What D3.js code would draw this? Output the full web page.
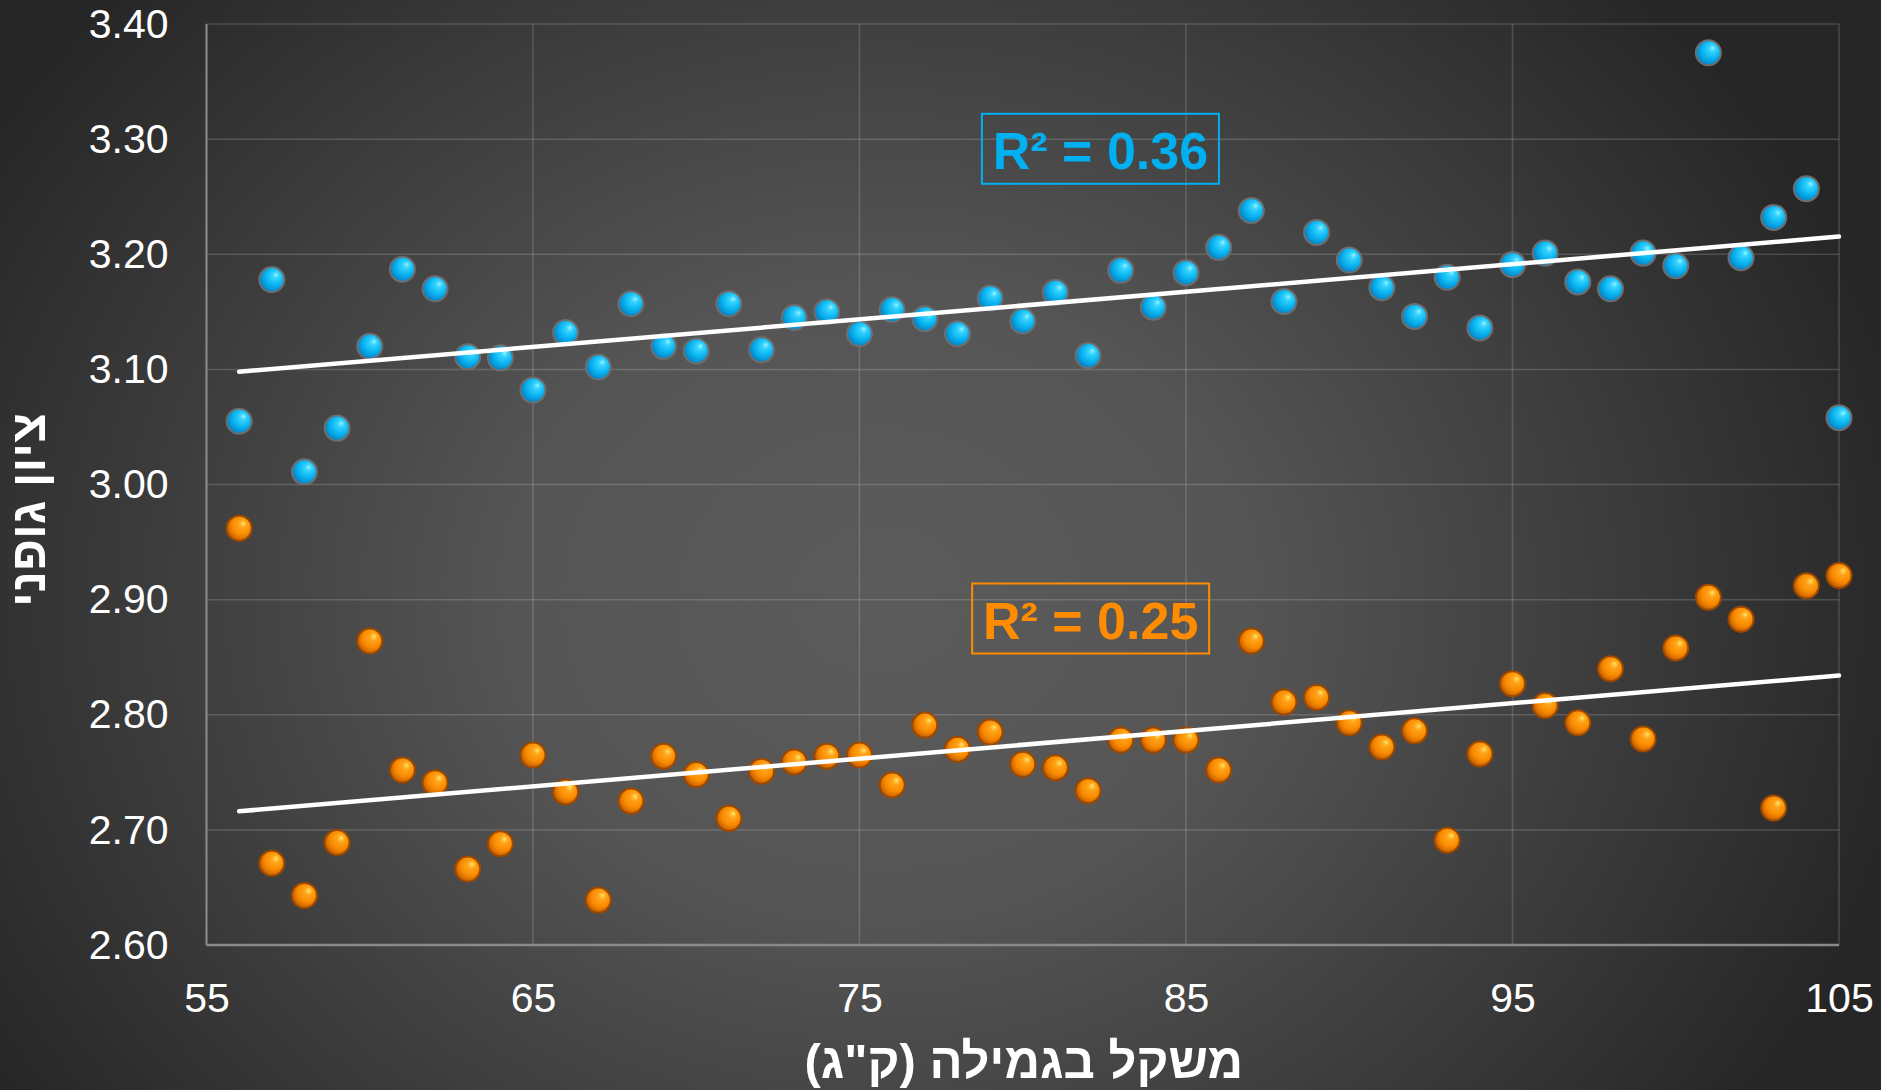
<!DOCTYPE html>
<html>
<head>
<meta charset="utf-8">
<script src="https://cdn.jsdelivr.net/npm/d3@7"></script>
<style>
  html, body { margin: 0; padding: 0; background: #2a2a2a; }
  svg { display: block; font-family: "Liberation Sans", Arial, sans-serif; }
</style>
</head>
<body>
<div id="chart"></div>
<script>
// weight at weaning (kg) -> body condition score, two groups
var weights = [56, 57, 58, 59, 60, 61, 62, 63, 64, 65,
    66, 67, 68, 69, 70, 71, 72, 73, 74, 75,
    76, 77, 78, 79, 80, 81, 82, 83, 84, 85,
    86, 87, 88, 89, 90, 91, 92, 93, 94, 95,
    96, 97, 98, 99, 100, 101, 102, 103, 104, 105];

var blueScores = [3.055, 3.178, 3.011, 3.049, 3.120, 3.187, 3.170, 3.111, 3.110, 3.082,
    3.132, 3.102, 3.157, 3.120, 3.116, 3.157, 3.117, 3.145, 3.150, 3.131,
    3.152, 3.144, 3.131, 3.162, 3.142, 3.167, 3.112, 3.186, 3.154, 3.184,
    3.206, 3.238, 3.159, 3.219, 3.195, 3.171, 3.146, 3.180, 3.136, 3.191,
    3.201, 3.176, 3.170, 3.201, 3.190, 3.375, 3.197, 3.232, 3.257, 3.058];

var orangeScores = [2.962, 2.671, 2.643, 2.689, 2.864, 2.752, 2.741, 2.666, 2.688, 2.765,
    2.733, 2.639, 2.725, 2.764, 2.748, 2.710, 2.751, 2.759, 2.764, 2.765,
    2.739, 2.791, 2.770, 2.785, 2.757, 2.754, 2.734, 2.778, 2.778, 2.778,
    2.752, 2.864, 2.811, 2.815, 2.793, 2.772, 2.786, 2.691, 2.766, 2.827,
    2.808, 2.793, 2.840, 2.779, 2.858, 2.902, 2.883, 2.719, 2.912, 2.921];

var xTicks = [55, 65, 75, 85, 95, 105];
var yTicks = [2.60, 2.70, 2.80, 2.90, 3.00, 3.10, 3.20, 3.30, 3.40];
var r2Labels = ["R\u00b2 = 0.36", "R\u00b2 = 0.25"];
var xTitle = "משקל בגמילה (ק\"ג)";
var yTitle = "ציון גופני";

var width = 1881,
    height = 1090;
var plot = { left: 206.5, right: 1839, top: 24, bottom: 945 };

var x = d3.scaleLinear().domain([55, 105]).range([plot.left, plot.right]);
var y = d3.scaleLinear().domain([2.6, 3.4]).range([plot.bottom, plot.top]);

var svg = d3.select("#chart").append("svg")
    .attr("width", width)
    .attr("height", height);

var defs = svg.append("defs");

// dark background, lighter in the middle
var bg = defs.append("radialGradient")
    .attr("id", "bg")
    .attr("gradientUnits", "userSpaceOnUse")
    .attr("cx", 880).attr("cy", 600).attr("r", 1050)
    .attr("gradientTransform", "translate(880,600) scale(1,0.85) translate(-880,-600)");
bg.append("stop").attr("offset", 0).attr("stop-color", "#5b5b5b");
bg.append("stop").attr("offset", 0.35).attr("stop-color", "#555555");
bg.append("stop").attr("offset", 1).attr("stop-color", "#262626");

function ball(id, stops) {
    var g = defs.append("radialGradient")
        .attr("id", id)
        .attr("cx", 0.58).attr("cy", 0.42).attr("r", 0.6)
        .attr("fx", 0.68).attr("fy", 0.3);
    stops.forEach(function (s) {
        g.append("stop").attr("offset", s[0]).attr("stop-color", s[1]);
    });
}
ball("ballBlue", [[0, "#9af2ff"], [0.22, "#35d2ff"], [0.6, "#0ab4f0"], [1, "#0280c4"]]);
ball("ballOrange", [[0, "#ffe66a"], [0.25, "#ffa41a"], [0.65, "#f98a00"], [1, "#c25c00"]]);

svg.append("rect")
    .attr("width", width)
    .attr("height", height)
    .attr("fill", "url(#bg)");

// grid
svg.append("g").selectAll("line")
    .data(yTicks)
    .enter().append("line")
    .attr("x1", plot.left).attr("x2", plot.right)
    .attr("y1", function (d) { return y(d); })
    .attr("y2", function (d) { return y(d); })
    .attr("stroke", "rgba(255,255,255,0.16)")
    .attr("stroke-width", 1.5);

svg.append("g").selectAll("line")
    .data(xTicks)
    .enter().append("line")
    .attr("y1", plot.top).attr("y2", plot.bottom)
    .attr("x1", function (d) { return x(d); })
    .attr("x2", function (d) { return x(d); })
    .attr("stroke", "rgba(255,255,255,0.16)")
    .attr("stroke-width", 1.5);

// axis lines
svg.append("line")
    .attr("x1", plot.left).attr("x2", plot.left)
    .attr("y1", plot.top).attr("y2", plot.bottom)
    .attr("stroke", "#8a8a8a").attr("stroke-width", 2);
svg.append("line")
    .attr("x1", plot.left).attr("x2", plot.right)
    .attr("y1", plot.bottom).attr("y2", plot.bottom)
    .attr("stroke", "#8a8a8a").attr("stroke-width", 2.5);

// tick labels
var yAxis = svg.append("g")
    .attr("transform", "translate(" + plot.left + ",0)")
    .call(d3.axisLeft(y).tickValues(yTicks).tickSize(0).tickPadding(38)
        .tickFormat(d3.format(".2f")));
var xAxis = svg.append("g")
    .attr("transform", "translate(0," + plot.bottom + ")")
    .call(d3.axisBottom(x).tickValues(xTicks).tickSize(0).tickPadding(38)
        .tickFormat(d3.format("d")));
[yAxis, xAxis].forEach(function (a) {
    a.select(".domain").remove();
    a.selectAll("text")
        .attr("fill", "#ffffff")
        .style("font-family", "'Liberation Sans', Arial, sans-serif")
        .style("font-size", "41px");
});

// points
var series = [
    { values: blueScores, fill: "url(#ballBlue)", stroke: "#6e6e6e" },
    { values: orangeScores, fill: "url(#ballOrange)", stroke: "#9c4800" }
];

series.forEach(function (s) {
    svg.append("g").selectAll("circle")
        .data(s.values)
        .enter().append("circle")
        .attr("cx", function (d, i) { return x(weights[i]); })
        .attr("cy", function (d) { return y(d); })
        .attr("r", 12.5)
        .attr("fill", s.fill)
        .attr("stroke", s.stroke)
        .attr("stroke-width", 2);
});

// linear trend lines (least squares)
function fit(xs, ys) {
    var mx = d3.mean(xs), my = d3.mean(ys);
    var sxy = d3.sum(xs, function (v, i) { return (v - mx) * (ys[i] - my); });
    var sxx = d3.sum(xs, function (v) { return (v - mx) * (v - mx); });
    var b = sxy / sxx;
    return function (v) { return my + b * (v - mx); };
}

var ends = [d3.min(weights), d3.max(weights)];
var line = d3.line()
    .x(function (d) { return x(d[0]); })
    .y(function (d) { return y(d[1]); });

series.forEach(function (s) {
    var f = fit(weights, s.values);
    svg.append("path")
        .attr("d", line(ends.map(function (v) { return [v, f(v)]; })))
        .attr("fill", "none")
        .attr("stroke", "#ffffff")
        .attr("stroke-width", 4.5)
        .attr("stroke-linecap", "round");
});

// R² boxes
var boxes = [
    { text: r2Labels[0], color: "#00b0f0", x0: 78.75, y0: 3.322 },
    { text: r2Labels[1], color: "#ff8c00", x0: 78.45, y0: 2.914 }
];
boxes.forEach(function (b) {
    var bx = x(b.x0), by = y(b.y0);
    svg.append("rect")
        .attr("x", bx).attr("y", by)
        .attr("width", 237).attr("height", 70)
        .attr("fill", "none")
        .attr("stroke", b.color)
        .attr("stroke-width", 2);
    svg.append("text")
        .attr("x", bx + 118.5).attr("y", by + 55)
        .attr("text-anchor", "middle")
        .attr("fill", b.color)
        .style("font-size", "52px")
        .style("font-weight", "bold")
        .text(b.text);
});

// axis titles
svg.append("text")
    .attr("x", (plot.left + plot.right) / 2 + 1)
    .attr("y", 1078)
    .attr("text-anchor", "middle")
    .attr("direction", "rtl")
    .attr("fill", "#ffffff")
    .style("font-size", "49px")
    .style("font-weight", "bold")
    .text(xTitle);

svg.append("text")
    .attr("transform", "translate(45,510) rotate(-90)")
    .attr("text-anchor", "middle")
    .attr("direction", "rtl")
    .attr("fill", "#ffffff")
    .style("font-size", "49px")
    .style("font-weight", "bold")
    .text(yTitle);
</script>
</body>
</html>
